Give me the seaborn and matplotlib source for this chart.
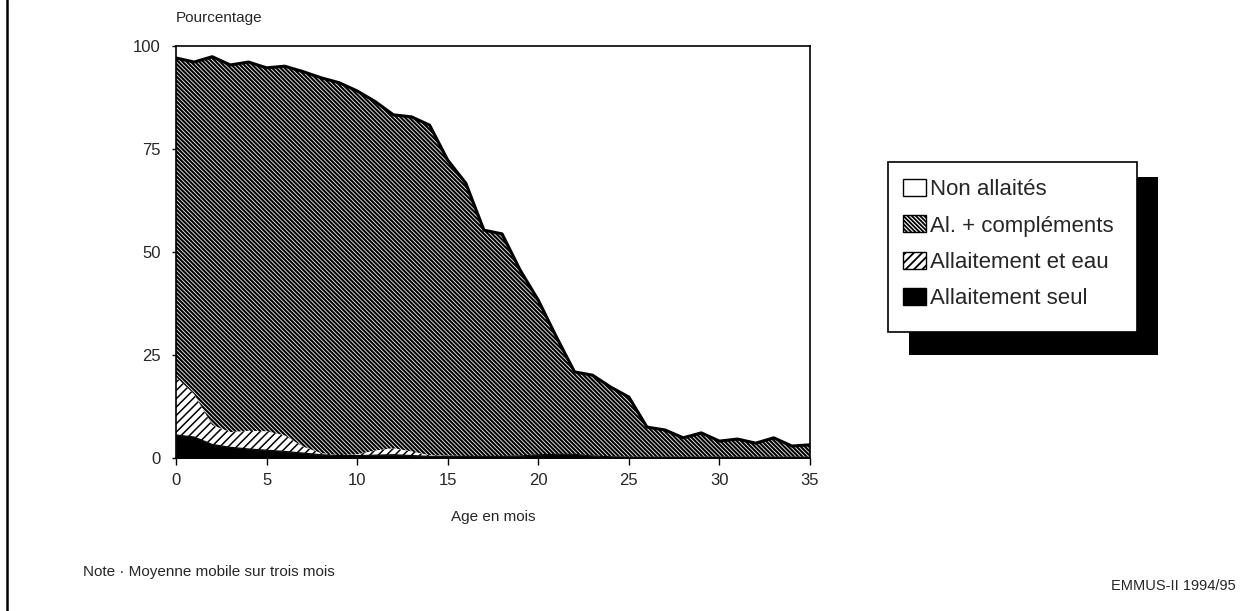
import numpy as np
import matplotlib
matplotlib.use('Agg')
import matplotlib.pyplot as plt
from matplotlib.patches import Patch, Rectangle
from matplotlib.lines import Line2D
import seaborn as sns

# age in months (moving average over three months)
mois = np.arange(36)

allait_seul = [5.6, 5.1, 3.3, 2.6, 2.2, 1.9, 1.6, 1.2, 0.8, 0.6, 0.6, 0.7, 0.8, 0.6, 0.4, 0.4, 0.4, 0.4,
               0.4, 0.5, 0.8, 0.9, 0.9, 0.5, 0.3, 0.2, 0.2, 0.2, 0.2, 0.2, 0.2, 0.2, 0.2, 0.2, 0.2, 0.2]
allait_eau = [14.1, 10.4, 4.7, 3.7, 4.4, 4.6, 3.9, 1.6, 0.4, 0.1, 0.3, 1.1, 1.6, 1.0, 0.3, 0.2, 0.1, 0.1,
              0.1, 0.1, 0.1, 0.1, 0.1, 0.1, 0.1, 0.1, 0.1, 0.1, 0.1, 0.1, 0.1, 0.1, 0.1, 0.1, 0.1, 0.1]
complements = [77.4, 80.6, 89.4, 89.1, 89.5, 88.2, 89.6, 91.0, 91.1, 90.4, 88.2, 84.7, 80.9, 81.2, 80.1,
               71.7, 66.2, 54.8, 53.9, 45.0, 37.4, 28.4, 19.9, 19.5, 16.8, 14.5, 7.2, 6.5, 4.6, 5.8,
               3.8, 4.3, 3.3, 4.6, 2.6, 2.9]

labels = ['Non allaités', 'Al. + compléments', 'Allaitement et eau', 'Allaitement seul']

sns.set_style('white')
plt.rcParams['font.family'] = ['Liberation Sans', 'DejaVu Sans']

fig = plt.figure(figsize=(12.54, 6.11), dpi=100)
ax = fig.add_axes([176 / 1254, 1 - 458 / 611, (810 - 176) / 1254, (458 - 46) / 611])

# cumulative levels of the stack
lvl1 = np.array(allait_seul)
lvl2 = lvl1 + np.array(allait_eau)
lvl3 = lvl2 + np.array(complements)

hatch_eau = '////'
hatch_compl = '\\' * 8

ax.fill_between(mois, 0, lvl1, facecolor='black', edgecolor='black', linewidth=0.5)
with plt.rc_context({'hatch.linewidth': 1.1}):
    ax.fill_between(mois, lvl1, lvl2, facecolor='white', edgecolor='black',
                    hatch=hatch_eau, linewidth=0)
with plt.rc_context({'hatch.linewidth': 1.5}):
    ax.fill_between(mois, lvl2, lvl3, facecolor='#f2f2f2', edgecolor='black',
                    hatch=hatch_compl, linewidth=0)

sns.lineplot(x=mois, y=lvl3, color='black', linewidth=2.2, ax=ax)
sns.lineplot(x=mois, y=lvl1, color='black', linewidth=0.8, ax=ax)

ax.set_xlim(0, 35)
ax.set_ylim(0, 100)
ax.set_xticks([0, 5, 10, 15, 20, 25, 30, 35])
ax.set_yticks([0, 25, 50, 75, 100])
ax.tick_params(axis='x', direction='out', length=5, width=1, color='black', labelsize=12, pad=6)
ax.tick_params(axis='y', direction='out', length=3, width=1, color='black', labelsize=12, pad=8)
ax.xaxis.set_ticks_position('bottom')
ax.yaxis.set_ticks_position('left')
for s in ax.spines.values():
    s.set_color('black')
    s.set_linewidth(1.2)
ax.set_xlabel('Age en mois', fontsize=11, labelpad=16)
ax.set_ylabel('')

fig.text(176 / 1254, 1 - 18 / 611, 'Pourcentage', fontsize=11, ha='left', va='center')
fig.text(83 / 1254, 1 - 572 / 611, 'Note · Moyenne mobile sur trois mois', fontsize=11,
         ha='left', va='center')
fig.text(1236 / 1254, 1 - 586 / 611, 'EMMUS-II 1994/95', fontsize=10.5, ha='right', va='center')

# left border of the page
fig.add_artist(Line2D([7 / 1254, 7 / 1254], [0, 1], color='black', linewidth=1.8,
                      transform=fig.transFigure))

# legend with a hard drop shadow
fig.add_artist(Rectangle((909 / 1254, 1 - 355 / 611), (1158 - 909) / 1254, (355 - 177) / 611,
                         facecolor='black', edgecolor='none', transform=fig.transFigure, zorder=1))
fig.add_artist(Rectangle((888 / 1254, 1 - 332 / 611), (1137 - 888) / 1254, (332 - 162) / 611,
                         facecolor='white', edgecolor='black', linewidth=1.2,
                         transform=fig.transFigure, zorder=2))
with plt.rc_context({'hatch.linewidth': 1.3}):
    handles = [
        Patch(facecolor='white', edgecolor='black', linewidth=1),
        Patch(facecolor='white', edgecolor='black', hatch=hatch_compl, linewidth=1),
        Patch(facecolor='white', edgecolor='black', hatch=hatch_eau, linewidth=1),
        Patch(facecolor='black', edgecolor='black', linewidth=1),
    ]
    leg = fig.legend(handles, labels, loc='upper left', bbox_to_anchor=(903 / 1254, 1 - 179 / 611),
                     frameon=False, fontsize=16, handlelength=1.05, handleheight=0.8,
                     handletextpad=0.15, labelspacing=0.68, borderpad=0, borderaxespad=0)
leg.set_zorder(3)

plt.savefig('out.png', dpi=100)
